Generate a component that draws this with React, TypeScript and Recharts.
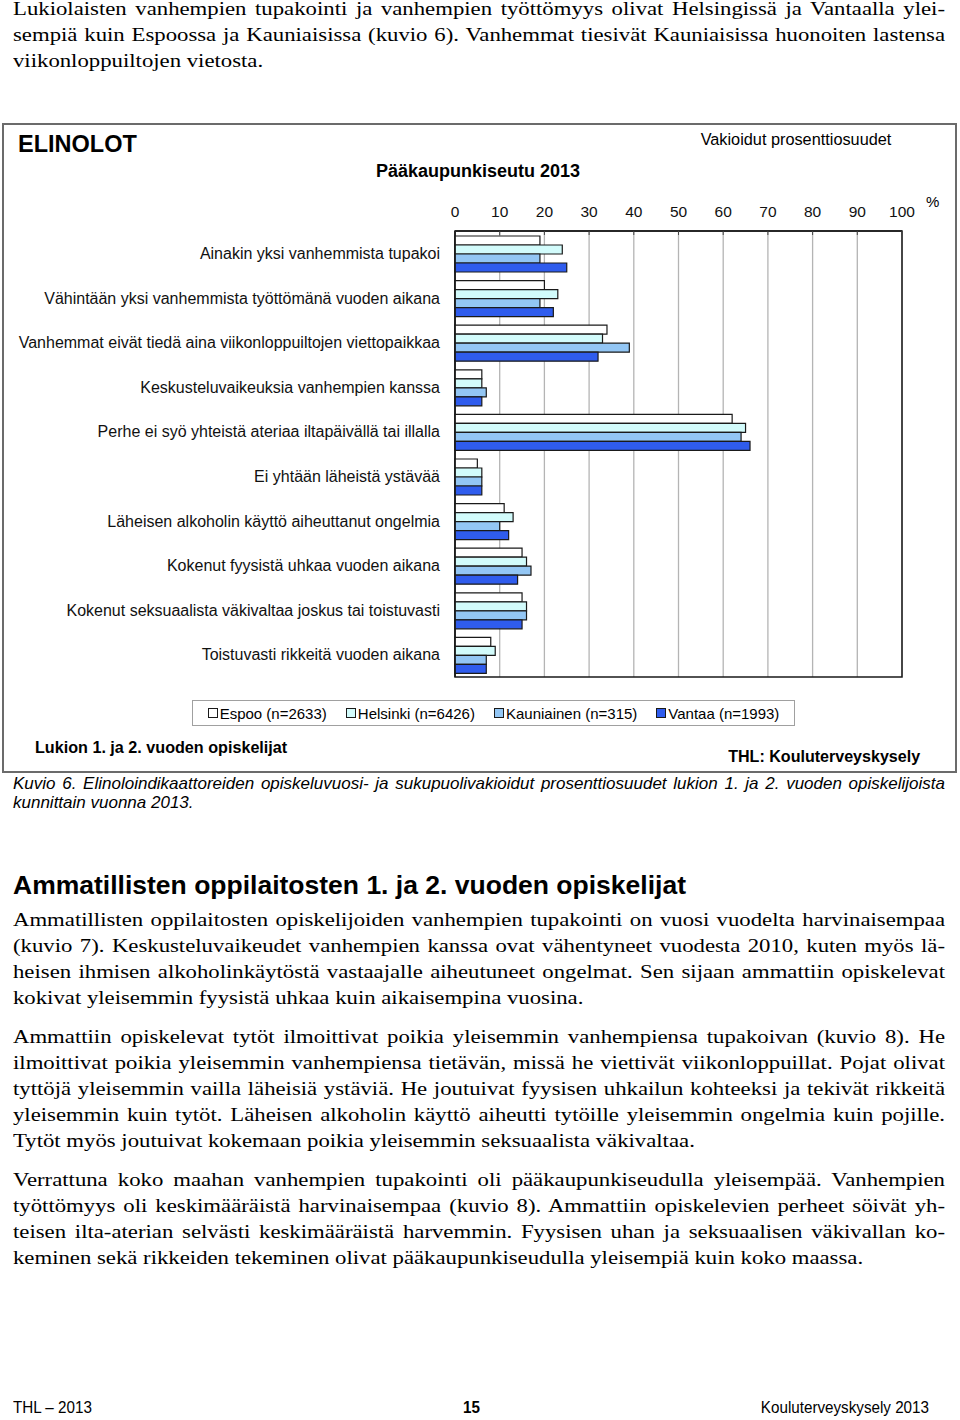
import React from 'react';
import { BarChart, Bar, XAxis, YAxis, CartesianGrid, ReferenceArea } from 'recharts';

const categories = [
  'Ainakin yksi vanhemmista tupakoi',
  'Vähintään yksi vanhemmista työttömänä vuoden aikana',
  'Vanhemmat eivät tiedä aina viikonloppuiltojen viettopaikkaa',
  'Keskusteluvaikeuksia vanhempien kanssa',
  'Perhe ei syö yhteistä ateriaa iltapäivällä tai illalla',
  'Ei yhtään läheistä ystävää',
  'Läheisen alkoholin käyttö aiheuttanut ongelmia',
  'Kokenut fyysistä uhkaa vuoden aikana',
  'Kokenut seksuaalista väkivaltaa joskus tai toistuvasti',
  'Toistuvasti rikkeitä vuoden aikana',
];

const espoo = [19, 20, 34, 6, 62, 5, 11, 15, 15, 8];
const helsinki = [24, 23, 33, 6, 65, 6, 13, 16, 16, 9];
const kauniainen = [19, 19, 39, 7, 64, 6, 10, 17, 16, 7];
const vantaa = [25, 22, 32, 6, 66, 6, 12, 14, 15, 7];

const xTicks = [0, 10, 20, 30, 40, 50, 60, 70, 80, 90, 100];

const seriesNames = ['Espoo (n=2633)', 'Helsinki (n=6426)', 'Kauniainen (n=315)', 'Vantaa (n=1993)'];
const seriesKeys = ['espoo', 'helsinki', 'kauniainen', 'vantaa'];
const seriesColors = ['#ffffff', '#d2fbfb', '#93c6f4', '#2f5ced'];

const data = categories.map((name, i) => ({
  name,
  espoo: espoo[i],
  helsinki: helsinki[i],
  kauniainen: kauniainen[i],
  vantaa: vantaa[i],
}));

const serif = "'Liberation Serif', 'DejaVu Serif', serif";
const sans = "'Liberation Sans', Arial, sans-serif";

const topLines = [
  'Lukiolaisten vanhempien tupakointi ja vanhempien työttömyys olivat Helsingissä ja Vantaalla ylei-',
  'sempiä kuin Espoossa ja Kauniaisissa (kuvio 6). Vanhemmat tiesivät Kauniaisissa huonoiten lastensa',
  'viikonloppuiltojen vietosta.',
];

const para1 = [
  'Ammatillisten oppilaitosten opiskelijoiden vanhempien tupakointi on vuosi vuodelta harvinaisempaa',
  '(kuvio 7). Keskusteluvaikeudet vanhempien kanssa ovat vähentyneet vuodesta 2010, kuten myös lä-',
  'heisen ihmisen alkoholinkäytöstä vastaajalle aiheutuneet ongelmat. Sen sijaan ammattiin opiskelevat',
  'kokivat yleisemmin fyysistä uhkaa kuin aikaisempina vuosina.',
];

const para2 = [
  'Ammattiin opiskelevat tytöt ilmoittivat poikia yleisemmin vanhempiensa tupakoivan (kuvio 8). He',
  'ilmoittivat poikia yleisemmin vanhempiensa tietävän, missä he viettivät viikonloppuillat. Pojat olivat',
  'tyttöjä yleisemmin vailla läheisiä ystäviä. He joutuivat fyysisen uhkailun kohteeksi ja tekivät rikkeitä',
  'yleisemmin kuin tytöt. Läheisen alkoholin käyttö aiheutti tytöille yleisemmin ongelmia kuin pojille.',
  'Tytöt myös joutuivat kokemaan poikia yleisemmin seksuaalista väkivaltaa.',
];

const para3 = [
  'Verrattuna koko maahan vanhempien tupakointi oli pääkaupunkiseudulla yleisempää. Vanhempien',
  'työttömyys oli keskimääräistä harvinaisempaa (kuvio 8). Ammattiin opiskelevien perheet söivät yh-',
  'teisen ilta-aterian selvästi keskimääräistä harvemmin. Fyysisen uhan ja seksuaalisen väkivallan ko-',
  'keminen sekä rikkeiden tekeminen olivat pääkaupunkiseudulla yleisempiä kuin koko maassa.',
];

const captionLines = [
  'Kuvio 6. Elinoloindikaattoreiden opiskeluvuosi- ja sukupuolivakioidut prosenttiosuudet lukion 1. ja 2. vuoden opiskelijoista',
  'kunnittain vuonna 2013.',
];

// block of justified lines, last one left aligned; sx stretches text sideways
const TextBlock = ({ lines, top, lineHeight, style, sx = 1 }: any) => (
  <div
    style={{
      position: 'absolute',
      left: 13,
      top,
      width: 932 / sx,
      transform: `scaleX(${sx})`,
      transformOrigin: '0 0',
    }}
  >
    {lines.map((l: string, i: number) => (
      <div
        key={i}
        style={{
          height: lineHeight,
          lineHeight: lineHeight + 'px',
          whiteSpace: 'nowrap',
          textAlign: 'justify',
          textAlignLast: i === lines.length - 1 ? 'left' : 'justify',
          ...style,
        }}
      >
        {l}
      </div>
    ))}
  </div>
);

const narrowStyle: React.CSSProperties = {
  position: 'absolute',
  fontFamily: sans,
  transform: 'scaleX(0.9)',
  whiteSpace: 'nowrap',
};

const serifText = { fontFamily: serif, fontSize: 19 };
const SX = 1.197;

const App = () => {
  return (
    <div style={{ position: 'absolute', left: 0, top: 0, width: 960, height: 1420, background: '#fff', color: '#000' }}>
      <TextBlock lines={topLines} top={-4} lineHeight={26} style={serifText} sx={SX} />

      {/* chart frame */}
      <div
        style={{
          position: 'absolute',
          left: 2,
          top: 123,
          width: 951,
          height: 646,
          border: '2px solid #6b6b6b',
        }}
      />
      <div style={{ position: 'absolute', left: 18, top: 131, fontFamily: sans, fontWeight: 'bold', fontSize: 23.5 }}>ELINOLOT</div>
      <div style={{ position: 'absolute', left: 278, top: 161, width: 400, textAlign: 'center', fontFamily: sans, fontWeight: 'bold', fontSize: 18 }}>
        Pääkaupunkiseutu 2013
      </div>
      <div style={{ position: 'absolute', left: 676, top: 130, width: 240, textAlign: 'center', fontFamily: sans, fontSize: 16.3 }}>
        Vakioidut prosenttiosuudet
      </div>
      <div style={{ position: 'absolute', left: 926, top: 193, fontFamily: sans, fontSize: 15 }}>%</div>

      <div style={{ position: 'absolute', left: 0, top: 190 }}>
        <BarChart
          width={960}
          height={500}
          data={data}
          layout="vertical"
          margin={{ top: 11, right: 58, bottom: 13, left: 0 }}
          barCategoryGap={5}
          barGap={0}
        >
          <CartesianGrid horizontal={false} stroke="#b4b4b4" strokeWidth={1.3} />
          <XAxis
            type="number"
            orientation="top"
            domain={[0, 100]}
            ticks={xTicks}
            interval={0}
            height={30}
            tickLine={{ stroke: '#444' }}
            tickSize={-4}
            tickMargin={18}
            axisLine={{ stroke: '#1a1a1a', strokeWidth: 1.5 }}
            tick={{ fontFamily: sans, fontSize: 15.5, fill: '#111' }}
          />
          <YAxis
            type="category"
            dataKey="name"
            width={455}
            interval={0}
            tickLine={false}
            tickSize={0}
            tickMargin={15}
            axisLine={{ stroke: '#1a1a1a', strokeWidth: 1.5 }}
            tick={{ fontFamily: sans, fontSize: 16, fill: '#111' }}
          />
          <ReferenceArea x1={0} x2={100} fill="none" stroke="#1a1a1a" strokeWidth={1.5} ifOverflow="visible" />
          {seriesKeys.map((k, i) => (
            <Bar
              key={k}
              dataKey={k}
              name={seriesNames[i]}
              fill={seriesColors[i]}
              stroke="#1a1a1a"
              strokeWidth={1.2}
              isAnimationActive={false}
            />
          ))}
        </BarChart>
      </div>

      {/* legend */}
      <div
        style={{
          position: 'absolute',
          left: 192,
          top: 700,
          width: 601,
          height: 24,
          border: '1px solid #a0a0a0',
          display: 'flex',
          alignItems: 'center',
          justifyContent: 'center',
          gap: 19,
          fontFamily: sans,
          fontSize: 15,
        }}
      >
        {seriesNames.map((n, i) => (
          <div key={n} style={{ display: 'flex', alignItems: 'center' }}>
            <span
              style={{
                display: 'inline-block',
                width: 8,
                height: 8,
                border: '1.5px solid #1a1a1a',
                background: seriesColors[i],
                marginRight: 2,
              }}
            />
            {n}
          </div>
        ))}
      </div>

      <div style={{ ...narrowStyle, left: 35, top: 738, fontWeight: 'bold', fontSize: 17, transformOrigin: '0 0', transform: 'scaleX(0.95)' }}>
        Lukion 1. ja 2. vuoden opiskelijat
      </div>
      <div style={{ ...narrowStyle, right: 40, top: 747, fontWeight: 'bold', fontSize: 17, transformOrigin: '100% 0', transform: 'scaleX(0.945)' }}>
        THL: Kouluterveyskysely
      </div>

      <TextBlock lines={captionLines} top={774} lineHeight={19} style={{ fontFamily: sans, fontStyle: 'italic', fontSize: 17 }} />

      <div style={{ position: 'absolute', left: 13, top: 870, fontFamily: sans, fontWeight: 'bold', fontSize: 26.5 }}>
        Ammatillisten oppilaitosten 1. ja 2. vuoden opiskelijat
      </div>

      <TextBlock lines={para1} top={907} lineHeight={26} style={serifText} sx={SX} />
      <TextBlock lines={para2} top={1024} lineHeight={26} style={serifText} sx={SX} />
      <TextBlock lines={para3} top={1167} lineHeight={26} style={serifText} sx={SX} />

      <div style={{ ...narrowStyle, left: 13, top: 1399, fontSize: 16, transformOrigin: '0 0', transform: 'scaleX(0.95)' }}>THL – 2013</div>
      <div style={{ ...narrowStyle, left: 463, top: 1399, fontWeight: 'bold', fontSize: 16, transformOrigin: '0 0', transform: 'scaleX(0.95)' }}>15</div>
      <div style={{ ...narrowStyle, right: 31, top: 1399, fontSize: 16, transformOrigin: '100% 0', transform: 'scaleX(0.95)' }}>
        Kouluterveyskysely 2013
      </div>
    </div>
  );
};

export default App;
